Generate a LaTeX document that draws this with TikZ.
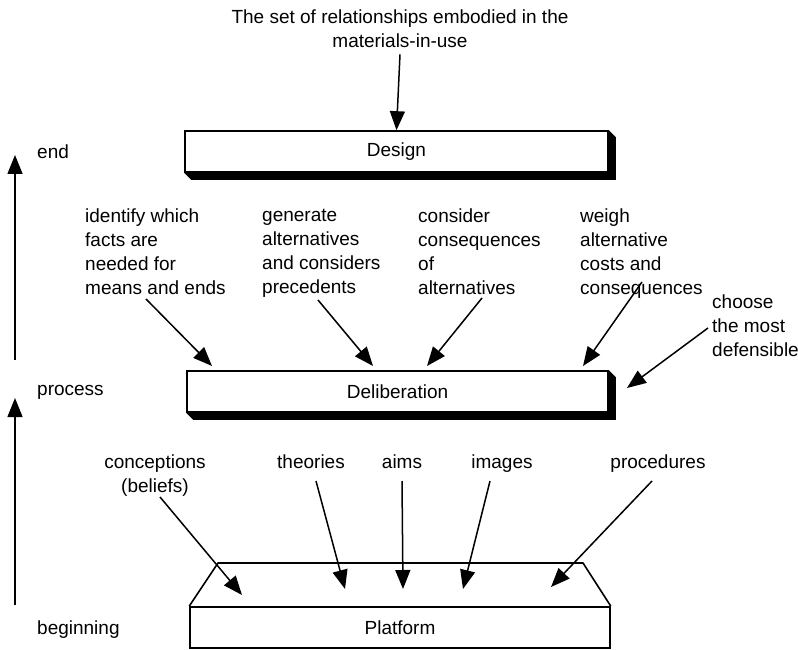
\documentclass[tikz,border=0pt]{standalone}
\usepackage{fontspec}
\setmainfont{Liberation Sans}
\usetikzlibrary{arrows.meta}
\begin{document}
\begin{tikzpicture}[x=1pt,y=-1pt,
  lbl/.style={font=\fontsize{19}{24}\selectfont, inner sep=0pt, align=left},
  ptr/.style={line width=1.5pt, -{Triangle[length=19pt,width=15pt]}},
  slab/.style={draw, line width=1.6pt, fill=white, inner sep=0pt,
    font=\fontsize{19}{24}\selectfont},
  extrude/.style={fill=black}]
\useasboundingbox (0,0) rectangle (798,650);

% ---- boxes ----
\node[slab, minimum width=423pt, minimum height=41pt] (design) at (396.5,151.5) {Design};
\fill[extrude] (design.south west) -- ++(7,7) -- ([shift={(7,7)}]design.south east)
  -- ([shift={(7,7)}]design.north east) -- (design.north east) -- (design.south east) -- cycle;

\node[slab, minimum width=421pt, minimum height=41pt] (delib) at (397.5,391.5) {Deliberation};
\fill[extrude] (delib.south west) -- ++(7,7) -- ([shift={(7,7)}]delib.south east)
  -- ([shift={(7,7)}]delib.north east) -- (delib.north east) -- (delib.south east) -- cycle;

\node[slab, minimum width=420pt, minimum height=41pt] (platform) at (400,627.5) {Platform};
\coordinate (ptl) at (218,563);
\coordinate (ptr) at (583,563);
\draw[line width=1.6pt, line join=round] (platform.north west) -- (ptl) -- (ptr) -- (platform.north east);

% ---- top input ----
\node[lbl, align=center, anchor=north] (rel) at (400,10)
  {The set of relationships embodied in the\\materials-in-use};
\draw[ptr] (rel.south) ++(0,6) coordinate (relfoot) -- (design.north);

% ---- stage axis ----
\node[lbl, anchor=west] (lend) at (37,152) {end};
\node[lbl, anchor=west] (lproc) at (37,392) {process};
\node[lbl, anchor=west] (lbeg) at (37,630) {beginning};
\coordinate (a1b) at (15,360);
\coordinate (a1t) at (15,155);
\coordinate (a2b) at (15,605);
\coordinate (a2t) at (15,398);
\draw[ptr] (a1b) -- (a1t);
\draw[ptr] (a2b) -- (a2t);

% ---- deliberation inputs ----
\node[lbl, anchor=north west] (ident) at (85,209)
  {identify which\\facts are\\needed for\\means and ends};
\node[lbl, anchor=north west] (gener) at (262,209)
  {generate\\alternatives\\and considers\\precedents};
\node[lbl, anchor=north west] (consid) at (418,209)
  {consider\\consequences\\of\\alternatives};
\node[lbl, anchor=north west] (weigh) at (580,209)
  {weigh\\alternative\\costs and\\consequences};
\node[lbl, anchor=north west] (choose) at (712,295)
  {choose\\the most\\defensible};

\coordinate (s1) at (146,299);  \coordinate (t1) at (212,366);
\coordinate (s2) at (318,300);  \coordinate (t2) at (373,366);
\coordinate (s3) at (482,298);  \coordinate (t3) at (427,366);
\coordinate (s4) at (642,282);  \coordinate (t4) at (583,366);
\coordinate (s5) at (708,328);  \coordinate (t5) at (627,388);
\draw[ptr] (s1) -- (t1);
\draw[ptr] (s2) -- (t2);
\draw[ptr] (s3) -- (t3);
\draw[ptr] (s4) -- (t4);
\draw[ptr] (s5) -- (t5);

% ---- platform inputs ----
\node[lbl, align=center, anchor=north] (conc) at (155,455) {conceptions\\(beliefs)};
\node[lbl, anchor=north] (theo) at (311,455) {theories};
\node[lbl, anchor=north] (aims) at (402,455) {aims};
\node[lbl, anchor=north] (imgs) at (502,455) {images};
\node[lbl, anchor=north] (proc) at (658,455) {procedures};

\coordinate (u1) at (160,497);  \coordinate (v1) at (242,595);
\coordinate (u2) at (316,481);  \coordinate (v2) at (345,589);
\coordinate (u3) at (402,481);  \coordinate (v3) at (403,589);
\coordinate (u4) at (490,481);  \coordinate (v4) at (463,589);
\coordinate (u5) at (652,481);  \coordinate (v5) at (551,587);
\draw[ptr] (u1) -- (v1);
\draw[ptr] (u2) -- (v2);
\draw[ptr] (u3) -- (v3);
\draw[ptr] (u4) -- (v4);
\draw[ptr] (u5) -- (v5);
\end{tikzpicture}
\end{document}
